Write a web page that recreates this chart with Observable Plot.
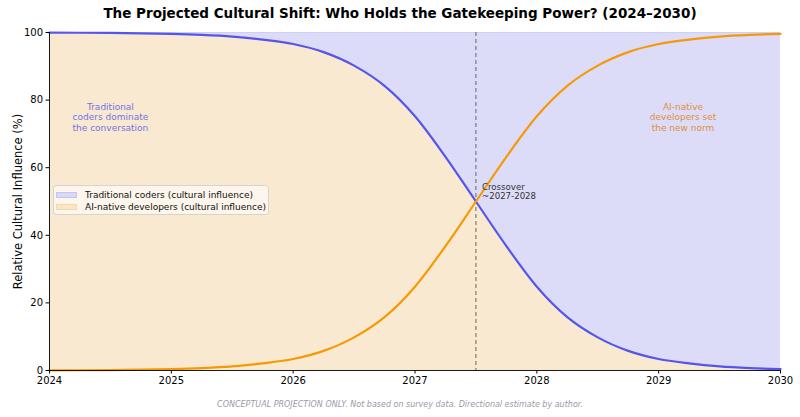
<!DOCTYPE html>
<html>
<head>
<meta charset="utf-8">
<script src="https://cdn.jsdelivr.net/npm/d3@7"></script>
<script src="https://cdn.jsdelivr.net/npm/@observablehq/plot@0.6"></script>
<style>
  html, body { margin: 0; padding: 0; background: #fff; }
  #wrap { position: relative; width: 800px; height: 417px; font-family: "DejaVu Sans", sans-serif; }
  #title { height: 26px; line-height: 26px; text-align: center; font-weight: bold; font-size: 13.5px; color: #000; }
  #caption { height: 25px; line-height: 25px; text-align: center; font-style: italic; font-size: 8px; color: #9a9aa6; }
  #legend { position: absolute; left: 53px; top: 185px; width: 216px; height: 30px; box-sizing: border-box;
            border: 1px solid #d8d4cc; border-radius: 3px; background: rgba(255,255,255,0.6); font-size: 9px; color: #111; }
  .item { position: absolute; left: 2px; display: flex; align-items: center; }
  .sw { width: 21px; height: 6px; margin-right: 8px; box-sizing: border-box; }
</style>
</head>
<body>
<div id="wrap">
  <div id="title">The Projected Cultural Shift: Who Holds the Gatekeeping Power? (2024–2030)</div>
  <div id="chart"></div>
  <div id="caption">CONCEPTUAL PROJECTION ONLY. Not based on survey data. Directional estimate by author.</div>
  <div id="legend"></div>
</div>
<script>
// Data
const years = [2024, 2024.25, 2024.5, 2024.75, 2025, 2025.25, 2025.5, 2025.75, 2026, 2026.25, 2026.5, 2026.75,
               2027, 2027.25, 2027.5, 2027.75, 2028, 2028.25, 2028.5, 2028.75, 2029, 2029.25, 2029.5, 2029.75, 2030];
const aiNative = [0.05, 0.08, 0.14, 0.23, 0.4, 0.7, 1.2, 2.1, 3.4, 5.8, 9.8, 15.8,
                  24.8, 36.8, 50, 63.2, 75.2, 84.2, 90.2, 94.2, 96.6, 97.9, 98.8, 99.3, 99.6];
const traditional = [99.95, 99.92, 99.86, 99.77, 99.6, 99.3, 98.8, 97.9, 96.6, 94.2, 90.2, 84.2,
                     75.2, 63.2, 50, 36.8, 24.8, 15.8, 9.8, 5.8, 3.4, 2.1, 1.2, 0.7, 0.4];
const xTicks = [2024, 2025, 2026, 2027, 2028, 2029, 2030];
const yTicks = [0, 20, 40, 60, 80, 100];
const crossover = [2027.5];
const yLabel = "Relative Cultural Influence (%)";
const seriesLabels = ["Traditional coders (cultural influence)", "AI-native developers (cultural influence)"];
const annotations = [
  {x: 2024.5, y: 75, text: "Traditional\ncoders dominate\nthe conversation", who: "trad"},
  {x: 2029.2, y: 75, text: "AI-native\ndevelopers set\nthe new norm", who: "ai"}
];
const crossoverNote = [{x: 2027.55, y: 53, text: "Crossover\n~2027-2028"}];

const rows = years.map((x, i) => ({x, ai: aiNative[i], trad: traditional[i]}));

const BLUE = "#5555ee", ORANGE = "#f59a06";
const LAV = "#dcdcf8", BEIGE = "#f9e9d0";

const chart = Plot.plot({
  width: 800,
  height: 366,
  marginTop: 6,
  marginBottom: 22,
  marginLeft: 49,
  marginRight: 20,
  style: {fontFamily: "DejaVu Sans, sans-serif", fontSize: "10px", background: "transparent", color: "#000"},
  x: {domain: [2024, 2030]},
  y: {domain: [0, 100]},
  marks: [
    Plot.areaY(rows, {x: "x", y1: 0, y2: "trad", fill: BEIGE, curve: "monotone-x"}),
    Plot.areaY(rows, {x: "x", y1: "trad", y2: 100, fill: LAV, curve: "monotone-x"}),
    Plot.ruleY([100], {stroke: "#cfcff3", strokeWidth: 1}),
    Plot.ruleX(crossover, {stroke: "#666", strokeWidth: 1, strokeDasharray: "4,3"}),
    Plot.line(rows, {x: "x", y: "trad", stroke: BLUE, strokeWidth: 2.2, curve: "monotone-x"}),
    Plot.line(rows, {x: "x", y: "ai", stroke: ORANGE, strokeWidth: 2.2, curve: "monotone-x"}),
    Plot.text(annotations, {x: "x", y: "y", text: "text", fill: d => d.who === "trad" ? "#7373e6" : "#df8f3a",
      fontSize: 9, lineHeight: 1.19, textAnchor: "middle", lineAnchor: "middle"}),
    Plot.text(crossoverNote, {x: "x", y: "y", text: "text", fill: "#333", fontSize: 8.6, lineHeight: 1.13,
      textAnchor: "start", lineAnchor: "middle"}),
    Plot.ruleY([0], {stroke: "#000", strokeWidth: 0.9}),
    Plot.ruleX([years[0]], {stroke: "#000", strokeWidth: 0.9}),
    Plot.axisX({ticks: xTicks, tickFormat: d => String(d), tickSize: 3.5, tickPadding: 3, fontSize: 10, label: null}),
    Plot.axisY({ticks: yTicks, tickSize: 3.5, tickPadding: 3, fontSize: 10,
      label: yLabel, labelAnchor: "center", labelArrow: "none", labelOffset: 36})
  ]
});
document.getElementById("chart").appendChild(chart);
// enlarge the y-axis label
chart.querySelectorAll("text").forEach(t => {
  if (t.textContent.trim() === yLabel) { t.style.fontSize = "11.5px"; }
});

const legend = document.getElementById("legend");
const swatches = [{fill: "#d9d9f5", stroke: "#c4c4ee"}, {fill: "#fbe6c4", stroke: "#f4d7a8"}];
seriesLabels.forEach((lab, i) => {
  const it = document.createElement("div");
  it.className = "item";
  it.style.top = (i === 0 ? 4 : 16) + "px";
  const sw = document.createElement("span");
  sw.className = "sw";
  sw.style.background = swatches[i].fill;
  sw.style.border = "1px solid " + swatches[i].stroke;
  const tx = document.createElement("span");
  tx.textContent = lab;
  it.appendChild(sw); it.appendChild(tx);
  legend.appendChild(it);
});
</script>
</body>
</html>
